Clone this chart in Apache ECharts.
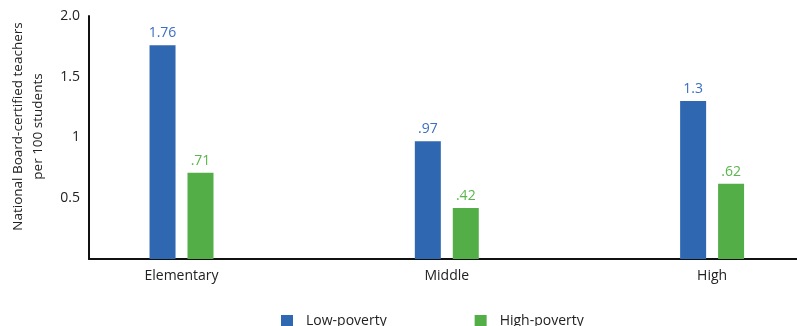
<!DOCTYPE html>
<html>
<head>
<meta charset="utf-8">
<script src="https://cdn.jsdelivr.net/npm/echarts@6/dist/echarts.min.js"></script>
<style>
  html, body { margin: 0; padding: 0; background: #fff; }
  #chart { width: 797px; height: 326px; }
</style>
</head>
<body>
<div id="chart"></div>
<script>
const categories = ['Elementary', 'Middle', 'High'];
const lowPoverty = [1.76, 0.97, 1.3];
const highPoverty = [0.71, 0.42, 0.62];
const lowLabels = ['1.76', '.97', '1.3'];
const highLabels = ['.71', '.42', '.62'];
const yTicks = { 0.5: '0.5', 1: '1', 1.5: '1.5', 2: '2.0' };

const chart = echarts.init(document.getElementById('chart'));
const font = '"Open Sans", "Noto Sans", sans-serif';

const option = {
  animation: false,
  grid: { left: 89, right: 0, top: 16, bottom: 67, outerBoundsMode: 'none', containLabel: false },
  xAxis: {
    type: 'value',
    min: -0.3487,
    max: 2.32,
    axisLine: { show: true, lineStyle: { color: '#111', width: 2 } },
    axisTick: { show: false },
    splitLine: { show: false },
    axisLabel: {
      customValues: [0, 1, 2],
      formatter: v => categories[Math.round(v)],
      color: '#222',
      fontSize: 14,
      fontFamily: font,
      margin: 10,
    },
  },
  yAxis: {
    type: 'value',
    min: 0,
    max: 2,
    interval: 0.5,
    name: 'National Board-certified teachers\nper 100 students',
    nameLocation: 'middle',
    nameGap: 41,
    nameTextStyle: { color: '#222', fontSize: 13.5, fontFamily: font, lineHeight: 20, padding: [0, 0, 0, 22] },
    axisLine: { show: true, onZero: false, lineStyle: { color: '#111', width: 2 } },
    axisTick: { show: false },
    splitLine: { show: false },
    axisLabel: {
      formatter: v => yTicks[v] || '',
      color: '#222',
      fontSize: 14,
      fontFamily: font,
      margin: 9,
    },
  },
  legend: {
    top: 314,
    left: 281,
    padding: 0,
    itemWidth: 12,
    itemHeight: 12,
    itemGap: 88,
    icon: 'rect',
    textStyle: { color: '#222', fontSize: 14, fontFamily: font, padding: [0, 0, 0, 8] },
    data: ['Low-poverty', 'High-poverty'],
  },
  series: [
    {
      name: 'Low-poverty',
      type: 'bar',
      barWidth: 26,
      barGap: '46%',
      data: lowPoverty.map((v, i) => [i, v]),
      itemStyle: { color: '#2f67b1' },
      label: {
        show: true,
        position: 'top',
        distance: 5,
        color: '#3b6fc2',
        fontSize: 14,
        fontFamily: font,
        formatter: p => lowLabels[p.dataIndex],
      },
    },
    {
      name: 'High-poverty',
      type: 'bar',
      barWidth: 26,
      data: highPoverty.map((v, i) => [i, v]),
      itemStyle: { color: '#53ae48' },
      label: {
        show: true,
        position: 'top',
        distance: 5,
        color: '#5ab54d',
        fontSize: 14,
        fontFamily: font,
        formatter: p => highLabels[p.dataIndex],
      },
    },
  ],
};

chart.setOption(option);
</script>
</body>
</html>
